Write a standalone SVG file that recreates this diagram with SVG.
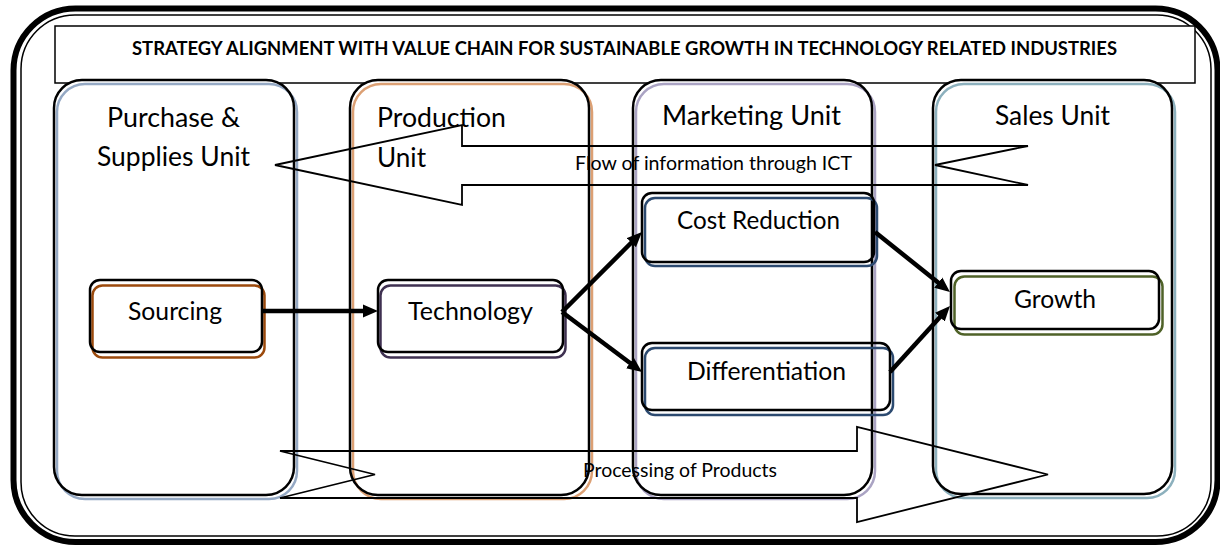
<svg xmlns="http://www.w3.org/2000/svg" width="1220" height="550" viewBox="0 0 1220 550">
  <defs>
    <style>
      .frame-outer { fill: none; stroke: #000; stroke-width: 6; }
      .frame-inner { fill: none; stroke: #000; stroke-width: 1.5; }
      .title-box { fill: #fff; stroke: #000; stroke-width: 1.5; }
      .unit-fill { fill: #fff; stroke: none; }
      .unit-shadow { fill: none; stroke-width: 2.5; }
      .unit-line { fill: none; stroke: #000; stroke-width: 2.5; }
      .node-shadow { fill: none; stroke-width: 2.5; }
      .node-line { fill: none; stroke: #000; stroke-width: 2.5; }
      .flow { fill: none; stroke: #000; stroke-width: 1.8; stroke-linejoin: miter; }
      .link { fill: none; stroke: #000; stroke-width: 4.5; }
      text { font-family: Lato, "Liberation Sans", sans-serif; fill: #000; }
      .title { font-size: 19.5px; font-weight: bold; }
      .unit-label { font-size: 27px; }
      .node-label { font-size: 25px; }
      .flow-label { font-size: 19px; }
    </style>
    <marker id="head" markerUnits="userSpaceOnUse" markerWidth="16" markerHeight="14" refX="3" refY="7" orient="auto">
      <path d="M0,0.5 L15,7 L0,13.5 z" fill="#000"/>
    </marker>
  </defs>

  <!-- outer double border -->
  <rect class="frame-outer" x="13.5" y="8.5" width="1204" height="533.5" rx="62" ry="62"/>
  <rect class="frame-inner" x="21" y="15" width="1190" height="521" rx="54" ry="54"/>

  <!-- heading -->
  <g id="title">
    <rect class="title-box" x="55" y="26" width="1140" height="57"/>
    <text class="title" x="132" y="55" textLength="985" lengthAdjust="spacingAndGlyphs">STRATEGY ALIGNMENT WITH VALUE CHAIN FOR SUSTAINABLE GROWTH IN TECHNOLOGY RELATED INDUSTRIES</text>
  </g>

  <!-- business units -->
  <g id="unit-purchase">
    <rect class="unit-fill" x="54" y="80" width="240" height="415" rx="28"/>
    <rect class="unit-shadow" stroke="#95a9c4" x="57" y="84" width="240" height="415" rx="28"/>
    <rect class="unit-line" x="54" y="80" width="240" height="415" rx="28"/>
  </g>
  <g id="unit-production">
    <rect class="unit-fill" x="350" y="80" width="239" height="415" rx="28"/>
    <rect class="unit-shadow" stroke="#dca074" x="353" y="84" width="239" height="415" rx="28"/>
    <rect class="unit-line" x="350" y="80" width="239" height="415" rx="28"/>
  </g>
  <g id="unit-marketing">
    <rect class="unit-fill" x="633" y="80" width="239" height="415" rx="28"/>
    <rect class="unit-shadow" stroke="#aaa3c3" x="636" y="84" width="239" height="415" rx="28"/>
    <rect class="unit-line" x="633" y="80" width="239" height="415" rx="28"/>
  </g>
  <g id="unit-sales">
    <rect class="unit-fill" x="933" y="80" width="239" height="414" rx="28"/>
    <rect class="unit-shadow" stroke="#8cb0bd" x="936" y="84" width="239" height="414" rx="28"/>
    <rect class="unit-line" x="933" y="80" width="239" height="414" rx="28"/>
  </g>

  <!-- value chain steps -->
  <g id="node-sourcing">
    <rect class="node-shadow" stroke="#9c4a0c" x="92.5" y="285.5" width="172" height="72" rx="10"/>
    <rect class="node-line" x="90" y="280" width="172" height="72" rx="10"/>
  </g>
  <g id="node-technology">
    <rect class="node-shadow" stroke="#3f3151" x="380.5" y="285.5" width="185" height="72" rx="10"/>
    <rect class="node-line" x="378" y="280" width="185" height="72" rx="10"/>
  </g>
  <g id="node-cost">
    <rect class="node-shadow" stroke="#2c4a70" x="645" y="198" width="232" height="68" rx="10"/>
    <rect class="node-line" x="642" y="193" width="232" height="69" rx="10"/>
  </g>
  <g id="node-differentiation">
    <rect class="node-shadow" stroke="#2c4a70" x="645" y="348" width="248" height="67" rx="10"/>
    <rect class="node-line" x="642" y="343" width="248" height="67" rx="10"/>
  </g>
  <g id="node-growth">
    <rect class="node-shadow" stroke="#4f6228" x="954.5" y="276.5" width="208" height="58" rx="10"/>
    <rect class="node-line" x="951" y="271" width="208" height="58" rx="10"/>
  </g>

  <!-- connectors -->
  <g id="connectors">
    <!-- information flow back towards purchasing -->
    <polygon class="flow" points="275,165 462,125 462,146 1028,146 935,165 1028,185 462,185 462,205"/>
    <!-- product flow towards sales -->
    <polygon class="flow" points="280,451 857,451 857,427 1048,474.5 857,522 857,498 280,498 375,474.5"/>
    <line class="link" x1="262" y1="311" x2="366" y2="311" marker-end="url(#head)"/>
    <line class="link" x1="562" y1="312" x2="633.5" y2="240.5" marker-end="url(#head)"/>
    <line class="link" x1="562" y1="312" x2="632.4" y2="364.8" marker-end="url(#head)"/>
    <line class="link" x1="875" y1="232" x2="940.6" y2="284.5" marker-end="url(#head)"/>
    <line class="link" x1="890" y1="372" x2="941.9" y2="314.9" marker-end="url(#head)"/>
  </g>

  <!-- labels -->
  <g id="labels">
    <text class="unit-label" x="107" y="127" textLength="133" lengthAdjust="spacingAndGlyphs">Purchase &amp;</text>
    <text class="unit-label" x="97" y="166" textLength="153" lengthAdjust="spacingAndGlyphs">Supplies Unit</text>
    <text class="unit-label" x="377" y="127" textLength="129" lengthAdjust="spacingAndGlyphs">Production</text>
    <text class="unit-label" x="377" y="167" textLength="49" lengthAdjust="spacingAndGlyphs">Unit</text>
    <text class="unit-label" x="662" y="125" textLength="179" lengthAdjust="spacingAndGlyphs">Marketing Unit</text>
    <text class="unit-label" x="995" y="125" textLength="115" lengthAdjust="spacingAndGlyphs">Sales Unit</text>
    <text class="node-label" x="128" y="320" textLength="94" lengthAdjust="spacingAndGlyphs">Sourcing</text>
    <text class="node-label" x="408" y="320" textLength="125" lengthAdjust="spacingAndGlyphs">Technology</text>
    <text class="node-label" x="677" y="229" textLength="163" lengthAdjust="spacingAndGlyphs">Cost Reduction</text>
    <text class="node-label" x="687" y="380" textLength="159" lengthAdjust="spacingAndGlyphs">Differentiation</text>
    <text class="node-label" x="1014" y="308" textLength="82" lengthAdjust="spacingAndGlyphs">Growth</text>
    <text class="flow-label" x="575" y="170" textLength="277" lengthAdjust="spacingAndGlyphs">Flow of information through ICT</text>
    <text class="flow-label" x="583" y="477" textLength="194" lengthAdjust="spacingAndGlyphs">Processing of Products</text>
  </g>
</svg>
